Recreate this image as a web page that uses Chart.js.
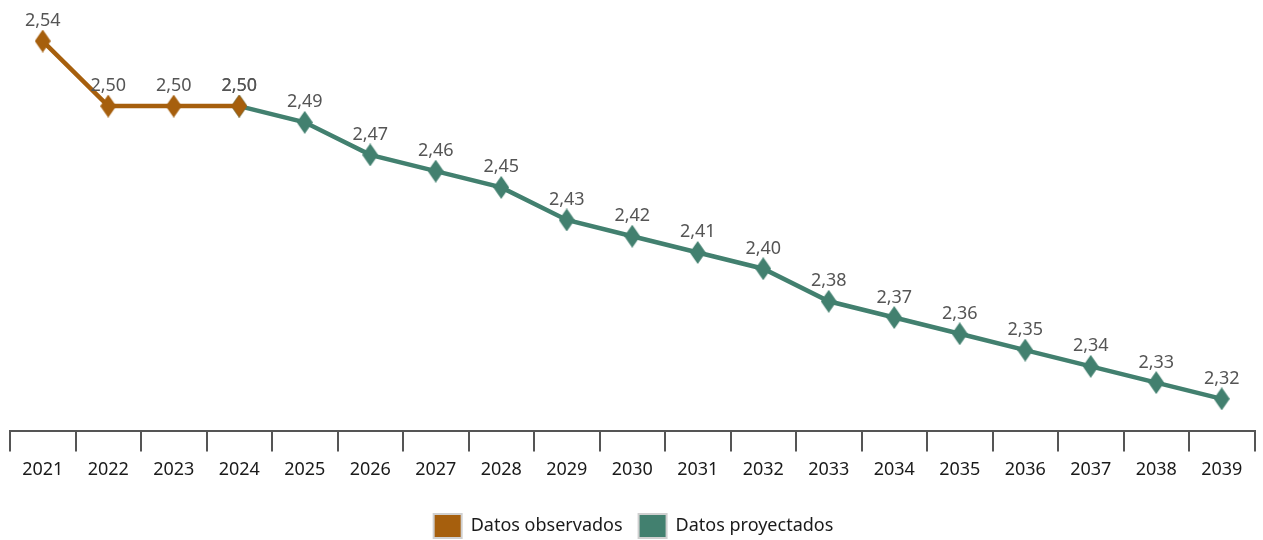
<!DOCTYPE html>
<html>
<head>
<meta charset="utf-8">
<script src="https://cdn.jsdelivr.net/npm/chart.js@4/dist/chart.umd.min.js"></script>
<style>
  html, body { margin: 0; padding: 0; background: #fff; }
  #wrap { width: 1263px; height: 540px; }
</style>
</head>
<body>
<div id="wrap"><canvas id="myChart"></canvas></div>
<script>
// años y valores
const years = ['2021','2022','2023','2024','2025','2026','2027','2028','2029','2030',
               '2031','2032','2033','2034','2035','2036','2037','2038','2039'];
const observed = [2.54, 2.50, 2.50, 2.50, null, null, null, null, null, null,
                  null, null, null, null, null, null, null, null, null];
const projected = [null, null, null, 2.50, 2.49, 2.47, 2.46, 2.45, 2.43, 2.42,
                   2.41, 2.40, 2.38, 2.37, 2.36, 2.35, 2.34, 2.33, 2.32];
const seriesNames = ['Datos observados', 'Datos proyectados'];

const orange = '#A65F0D';
const teal = '#42806F';
const fontFam = '"Noto Sans", "DejaVu Sans", sans-serif';

// diamante alargado para los puntos
function diamond(color){
  const c = document.createElement('canvas');
  c.width = 16; c.height = 23;
  const g = c.getContext('2d');
  g.fillStyle = color;
  g.beginPath();
  g.moveTo(8, 0);
  g.lineTo(16, 11.5);
  g.lineTo(8, 23);
  g.lineTo(0, 11.5);
  g.closePath();
  g.fill();
  return c;
}

// etiquetas de valores encima de cada punto
const valueLabels = {
  id: 'valueLabels',
  afterDatasetsDraw(chart){
    const ctx = chart.ctx;
    ctx.save();
    ctx.font = '18px ' + fontFam;
    ctx.fillStyle = '#555';
    ctx.textAlign = 'center';
    ctx.textBaseline = 'alphabetic';
    chart.data.datasets.forEach((ds, i) => {
      const meta = chart.getDatasetMeta(i);
      meta.data.forEach((pt, j) => {
        const v = ds.data[j];
        if (v == null) return;
        ctx.fillText(v.toFixed(2).replace('.', ','), pt.x, pt.y - 15);
      });
    });
    ctx.restore();
  }
};

const ctx = document.getElementById('myChart');

new Chart(ctx, {
  type: 'line',
  data: {
    labels: years,
    datasets: [{
      label: seriesNames[0],
      data: observed,
      borderColor: orange,
      backgroundColor: orange,
      borderWidth: 4.5,
      pointStyle: diamond(orange),
      clip: false
    }, {
      label: seriesNames[1],
      data: projected,
      borderColor: teal,
      backgroundColor: teal,
      borderWidth: 4.5,
      pointStyle: diamond(teal),
      clip: false
    }]
  },
  options: {
    responsive: true,
    maintainAspectRatio: false,
    animation: false,
    layout: { padding: { top: 5, left: 10, right: 6, bottom: -8 } },
    plugins: {
      tooltip: { enabled: false },
      legend: {
        position: 'bottom',
        labels: {
          font: { family: fontFam, size: 18 },
          color: '#1a1a1a',
          boxWidth: 28,
          boxHeight: 24,
          padding: 16,
          generateLabels(chart){
            return chart.data.datasets.map((ds, i) => ({
              text: ds.label,
              fillStyle: ds.borderColor,
              strokeStyle: '#d0d0d0',
              lineWidth: 2,
              fontColor: '#1a1a1a',
              hidden: false,
              datasetIndex: i
            }));
          }
        }
      }
    },
    scales: {
      x: {
        offset: true,
        afterFit(scale){ scale.height += 9; },
        grid: {
          display: true,
          offset: true,
          drawOnChartArea: false,
          drawTicks: true,
          tickLength: 20,
          color: '#555',
          lineWidth: 2
        },
        border: { display: true, color: '#555', width: 2 },
        ticks: {
          color: '#1a1a1a',
          padding: 8,
          font: { family: fontFam, size: 18 }
        }
      },
      y: {
        display: false,
        min: 2.30,
        max: 2.56
      }
    }
  },
  plugins: [valueLabels]
});
</script>
</body>
</html>
